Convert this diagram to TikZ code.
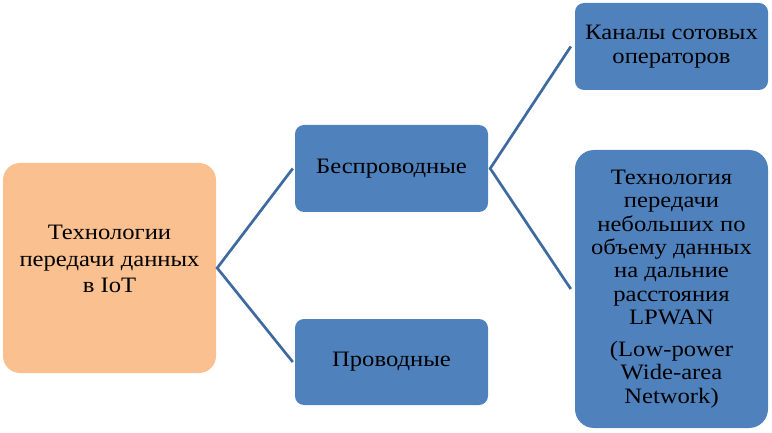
\documentclass[tikz,border=0pt]{standalone}
\usepackage{fontspec}
\setmainfont{Liberation Serif}
\newfontfamily\tnr[FakeStretch=1.12]{Liberation Serif}
\definecolor{boxorange}{RGB}{250,192,144}
\definecolor{boxblue}{RGB}{79,129,189}
\definecolor{linkblue}{RGB}{62,106,160}
\tikzset{
  boxtext/.style={align=center, font=\tnr\fontsize{22}{23.3}\selectfont, text=black, inner sep=0pt},
  orangebox/.style={fill=boxorange, draw=none, rounded corners=17pt, inner sep=0pt},
  bluebox/.style={boxtext, fill=boxblue, draw=none, rounded corners=9pt},
  link/.style={draw=linkblue, line width=2.7pt}
}
\begin{document}
\begin{tikzpicture}[x=1pt,y=-1pt]
\useasboundingbox (0,0) rectangle (772,433);
\node[orangebox, minimum width=213pt, minimum height=210pt] (root) at (109.5,268) {};
\node[boxtext, font=\tnr\fontsize{22}{26.5}\selectfont] (roottext) at ([yshift=9pt]root.center) {Технологии\\передачи данных\\в IoT};
\node[bluebox, minimum width=193pt, minimum height=87pt] (wl) at (391.5,168.5) {Беспроводные};
\node[bluebox, minimum width=193pt, minimum height=86pt] (wd) at (391.5,362) {Проводные};
\node[bluebox, minimum width=193pt, minimum height=87pt] (cell) at (671.5,46.5) {Каналы сотовых\\операторов};
\node[bluebox, rounded corners=19pt, minimum width=193pt, minimum height=278pt] (lp) at (671.5,289) {Технология\\передачи\\небольших по\\объему данных\\на дальние\\расстояния\\LPWAN\\[9pt](Low-power\\Wide-area\\Network)};
\coordinate (rootR) at ([xshift=1pt]root.east);
\coordinate (wlR) at ([xshift=2pt]wl.east);
\draw[link] ([xshift=-2pt]wl.west) -- (rootR) -- ([xshift=-2pt]wd.west);
\draw[link] ([xshift=-4pt]cell.west) -- (wlR) -- ([xshift=-4pt]lp.west);
\end{tikzpicture}
\end{document}
